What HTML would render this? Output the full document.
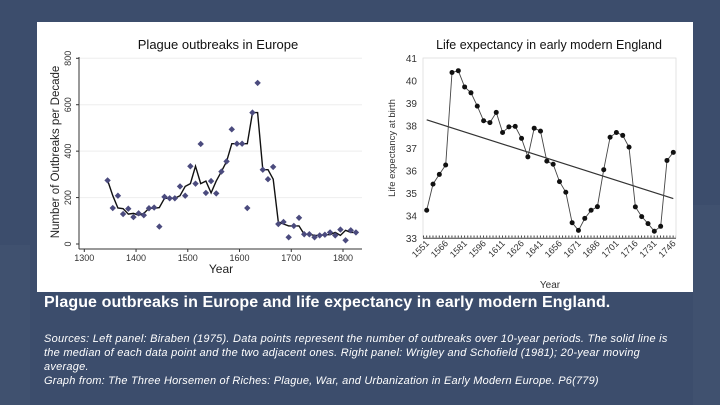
<!DOCTYPE html>
<html><head><meta charset="utf-8">
<style>
html,body{margin:0;padding:0}
body{width:720px;height:405px;overflow:hidden;background:#3c4d6c;font-family:"Liberation Sans",sans-serif;position:relative}
.bgs{position:absolute;bottom:0;background:rgba(255,255,255,0.025)}
#panel{position:absolute;left:37px;top:22px;width:656px;height:270px;background:#fff}
#cap{position:absolute;left:44px;top:294px;color:#fff;font-size:16px;font-weight:bold;letter-spacing:0.1px}
#src{position:absolute;left:44px;top:332px;width:634px;color:#fff;font-size:11px;font-style:italic;line-height:14px;letter-spacing:0.25px}
#gf{position:absolute;left:44px;top:375px;color:#fff;font-size:11px;font-style:italic;letter-spacing:0.2px}
</style></head>
<body>
<div class="bgs" style="left:0;width:30px;height:160px"></div>
<div class="bgs" style="left:693px;width:27px;height:200px"></div>
<div id="panel"></div>
<svg id="chart" width="720" height="405" style="position:absolute;left:0;top:0"></svg>
<div id="cap">Plague outbreaks in Europe and life expectancy in early modern England.</div>
<div id="src">Sources: Left panel: Biraben (1975). Data points represent the number of outbreaks over 10-year periods. The solid line is the median of each data point and the two adjacent ones. Right panel: Wrigley and Schofield (1981); 20-year moving average.</div>
<div id="gf">Graph from: The Three Horsemen of Riches: Plague, War, and Urbanization in Early Modern Europe. P6(779)</div>
<script>
const plagueYears=[1345,1355,1365,1375,1385,1395,1405,1415,1425,1435,1445,1455,1465,1475,1485,1495,1505,1515,1525,1535,1545,1555,1565,1575,1585,1595,1605,1615,1625,1635,1645,1655,1665,1675,1685,1695,1705,1715,1725,1735,1745,1755,1765,1775,1785,1795,1805,1815,1825];
const plagueValues=[274,155,208,129,152,116,132,124,154,157,75,203,197,197,248,208,335,260,431,220,271,218,312,356,494,432,432,155,566,694,320,279,332,86,95,29,78,113,42,42,29,37,40,50,37,62,16,59,50];
const plagueXTicks=[1300,1400,1500,1600,1700,1800];
const plagueYTicks=[0,200,400,600,800];
const lifeYears=[1551,1556,1561,1566,1571,1576,1581,1586,1591,1596,1601,1606,1611,1616,1621,1626,1631,1636,1641,1646,1651,1656,1661,1666,1671,1676,1681,1686,1691,1696,1701,1706,1711,1716,1721,1726,1731,1736,1741,1746];
const lifeValues=[34.26,35.42,35.85,36.27,40.37,40.45,39.73,39.47,38.88,38.23,38.15,38.6,37.71,37.96,37.98,37.45,36.63,37.9,37.77,36.44,36.3,35.53,35.06,33.71,33.37,33.9,34.26,34.42,36.06,37.5,37.71,37.58,37.06,34.41,33.98,33.67,33.33,33.55,36.47,36.83];
const lifeTrend=[38.27,34.78];
const lifeXTicks=[1551,1566,1581,1596,1611,1626,1641,1656,1671,1686,1701,1716,1731,1746];
const lifeYTicks=[33,34,35,36,37,38,39,40,41];

const svg=document.getElementById('chart');
const NS='http://www.w3.org/2000/svg';
function mk(tag,attrs,parent){const e=document.createElementNS(NS,tag);for(const k in attrs)e.setAttribute(k,attrs[k]);(parent||svg).appendChild(e);return e;}

// ---- Left chart
const lx=y=>84.3+(y-1300)*0.5174;
const ly=v=>244-v*(185.7/800);
const gL=mk('g',{});


let t=mk('text',{x:218,y:49,'text-anchor':'middle','font-size':13,fill:'#111'},gL);t.textContent='Plague outbreaks in Europe';

plagueYTicks.forEach(v=>{
  if(v>0){const g=mk('line',{x1:80,x2:362,y1:ly(v),y2:ly(v),stroke:'#eee','stroke-width':1},gL);
  }
  mk('line',{x1:76,x2:79,y1:ly(v),y2:ly(v),stroke:'#333'},gL);
  const tt=mk('text',{x:0,y:0,'font-size':9,fill:'#333','text-anchor':'middle',transform:`translate(71,${ly(v)}) rotate(-90)`},gL);tt.textContent=v;
  
});
mk('line',{x1:79,x2:79,y1:57,y2:249,stroke:'#333'},gL);
mk('line',{x1:79,x2:362,y1:249,y2:249,stroke:'#333'},gL);
plagueXTicks.forEach(y=>{
  mk('line',{x1:lx(y),x2:lx(y),y1:249,y2:252,stroke:'#333'},gL);
  const tt=mk('text',{x:lx(y),y:261,'font-size':9,fill:'#333','text-anchor':'middle'},gL);tt.textContent=y;
  
});
t=mk('text',{x:221,y:273,'font-size':12,fill:'#222','text-anchor':'middle'},gL);t.textContent='Year';

t=mk('text',{x:0,y:0,'font-size':11.5,fill:'#222','text-anchor':'middle',transform:'translate(59,152) rotate(-90)'},gL);t.textContent='Number of Outbreaks per Decade';

// running median of 3 (endpoints keep own value)
const med=plagueValues.map((v,i)=>{if(i===0||i===plagueValues.length-1)return v;const a=plagueValues.slice(i-1,i+2).sort((p,q)=>p-q);return a[1];});
let d='';
plagueYears.forEach((y,i)=>{d+=(i?'L':'M')+lx(y).toFixed(1)+','+ly(med[i]).toFixed(1);});
const ml=mk('path',{d:d,fill:'none',stroke:'#111','stroke-width':1.4},gL);

plagueYears.forEach((y,i)=>{
  const cx=lx(y),cy=ly(plagueValues[i]);
  const p=mk('path',{d:`M${cx},${cy-3.2}L${cx+3.2},${cy}L${cx},${cy+3.2}L${cx-3.2},${cy}Z`,fill:'#4b4b7e'},gL);
  
});

// ---- Right chart
const rx=y=>426.7+(y-1551)*(246.6/195);
const ry=v=>58.3+(41-v)*22.55;
const gR=mk('g',{});


t=mk('text',{x:549,y:49,'text-anchor':'middle','font-size':12.5,fill:'#111'},gR);t.textContent='Life expectancy in early modern England';

mk('rect',{x:423,y:58,width:253,height:180,fill:'none',stroke:'#ddd','stroke-width':0.8},gR);
lifeYTicks.forEach(v=>{
  const tt=mk('text',{x:417,y:ry(v)+3.5,'font-size':10,fill:'#333','text-anchor':'end'},gR);tt.textContent=v;
  
});
mk('line',{x1:423,x2:676,y1:238.3,y2:238.3,stroke:'#444','stroke-width':1},gR);
mk('line',{x1:423,x2:676,y1:236.5,y2:236.5,stroke:'#444','stroke-width':2,'stroke-dasharray':'1,2.16'},gR);
lifeXTicks.forEach(y=>{
  const tt=mk('text',{x:0,y:0,'font-size':9,fill:'#333','text-anchor':'end',transform:`translate(${rx(y)+3},${244}) rotate(-45)`},gR);tt.textContent=y;
  
});
t=mk('text',{x:550,y:288,'font-size':10,fill:'#333','text-anchor':'middle'},gR);t.textContent='Year';

t=mk('text',{x:0,y:0,'font-size':9.5,fill:'#333','text-anchor':'middle',transform:'translate(395,148) rotate(-90)'},gR);t.textContent='Life expectancy at birth';

const tl=mk('line',{x1:rx(lifeYears[0]),y1:ry(lifeTrend[0]),x2:rx(lifeYears[lifeYears.length-1]),y2:ry(lifeTrend[1]),stroke:'#333','stroke-width':1.2},gR);

d='';
lifeYears.forEach((y,i)=>{d+=(i?'L':'M')+rx(y).toFixed(1)+','+ry(lifeValues[i]).toFixed(1);});
const ll=mk('path',{d:d,fill:'none',stroke:'#444','stroke-width':0.9},gR);

lifeYears.forEach((y,i)=>{
  const c=mk('circle',{cx:rx(y),cy:ry(lifeValues[i]),r:2.5,fill:'#111'},gR);
  
});
</script>
</body></html>
